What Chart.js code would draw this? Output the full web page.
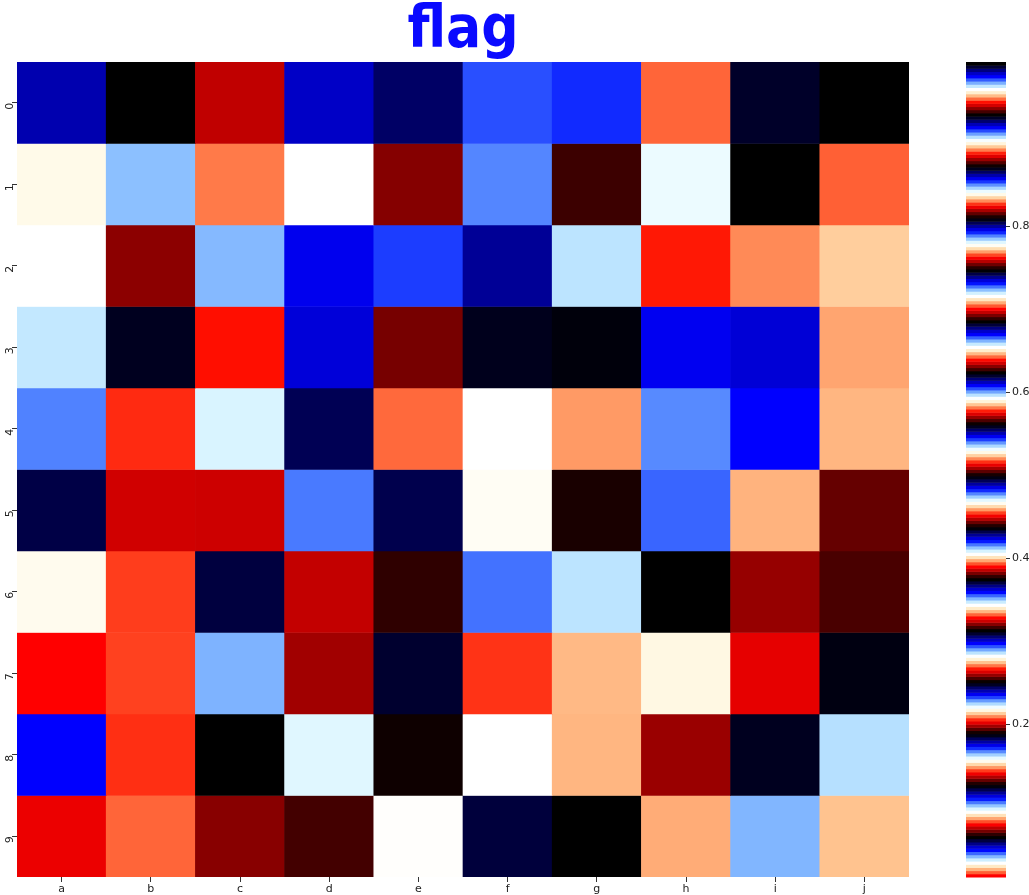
<!DOCTYPE html>
<html>
<head>
<meta charset="utf-8">
<script src="https://cdn.jsdelivr.net/npm/chart.js@4"></script>
<style>
    body { margin: 0; background: #fff; }
    #wrap { position: relative; width: 1029px; height: 895px; }
    #heat { position: absolute; left: 0; top: 0; width: 926px; height: 895px; }
    #cbar { position: absolute; left: 926px; top: 0; width: 103px; height: 895px; }
</style>
</head>
<body>
<div id="wrap">
    <div id="heat"><canvas id="chart-heat"></canvas></div>
    <div id="cbar"><canvas id="chart-cbar"></canvas></div>
</div>
<script>
const columns = ['a', 'b', 'c', 'd', 'e', 'f', 'g', 'h', 'i', 'j'];
const rows = ['0', '1', '2', '3', '4', '5', '6', '7', '8', '9'];

const row0 = [0.551, 0.685, 0.386, 0.985, 0.555, 0.605, 0.482, 0.332, 0.931, 0.313];
const row1 = [0.839, 0.724, 0.582, 0.344, 0.321, 0.478, 0.317, 0.843, 0.686, 0.022];
const row2 = [0.655, 0.942, 0.041, 0.858, 0.543, 0.118, 0.286, 0.267, 0.520, 0.214];
const row3 = [0.969, 0.559, 0.950, 0.425, 0.382, 0.869, 0.125, 0.547, 0.735, 0.087];
const row4 = [0.789, 0.206, 0.098, 0.804, 0.643, 0.345, 0.459, 0.168, 0.670, 0.336];
const row5 = [0.743, 0.635, 0.325, 0.106, 0.121, 0.777, 0.812, 0.355, 0.026, 0.133];
const row6 = [0.156, 0.145, 0.060, 0.697, 0.378, 0.728, 0.287, 0.998, 0.570, 0.256];
const row7 = [0.016, 0.455, 0.662, 0.198, 0.309, 0.827, 0.647, 0.217, 0.202, 0.808];
const row8 = [0.981, 0.517, 0.375, 0.781, 0.873, 0.033, 0.337, 0.880, 0.560, 0.908];
const row9 = [0.823, 0.333, 0.632, 0.939, 0.405, 0.371, 0.624, 0.708, 0.352, 0.275];
const values = [row0, row1, row2, row3, row4, row5, row6, row7, row8, row9];

const cbarTicks = [0.2, 0.4, 0.6, 0.8];

const vmin = Math.min(...values.flat());
const vmax = Math.max(...values.flat());

// matplotlib 'flag' colormap, 256 entry lookup table
function flagColor(t) {
    let i = Math.floor(t * 256);
    if (i > 255) i = 255;
    if (i < 0) i = 0;
    const x = i / 255;
    const r = 0.75 * Math.sin((x * 31.5 + 0.25) * Math.PI) + 0.5;
    const g = Math.sin(x * 31.5 * Math.PI);
    const b = 0.75 * Math.sin((x * 31.5 - 0.25) * Math.PI) + 0.5;
    const c = v => Math.round(Math.min(1, Math.max(0, v)) * 255);
    return `rgb(${c(r)},${c(g)},${c(b)})`;
}

const tickFont = { family: 'DejaVu Sans', size: 11 };

function getHeatmap() {
    const ctx = document.getElementById('chart-heat');
    const datasets = values.map((vals, r) => ({
        label: rows[r],
        data: columns.map(() => [r, r + 1]),
        backgroundColor: vals.map(v => flagColor((v - vmin) / (vmax - vmin))),
        borderWidth: 0,
        grouped: false,
        barPercentage: 1,
        categoryPercentage: 1,
    }));

    new Chart(ctx, {
        type: 'bar',
        data: { labels: columns, datasets },
        options: {
            responsive: true,
            maintainAspectRatio: false,
            animation: false,
            layout: { padding: 0 },
            scales: {
                x: {
                    type: 'category',
                    offset: true,
                    grid: { drawOnChartArea: false, offset: false, tickLength: 5, color: '#333' },
                    border: { display: false },
                    ticks: { font: tickFont, color: '#222', padding: 1, maxRotation: 0 },
                    afterFit: s => { s.height = 18; },
                },
                y: {
                    type: 'linear',
                    min: 0,
                    max: 10,
                    reverse: true,
                    afterBuildTicks: s => { s.ticks = rows.map((_, i) => ({ value: i + 0.5 })); },
                    grid: { drawOnChartArea: false, tickLength: 5, color: '#333' },
                    border: { display: false },
                    ticks: {
                        font: tickFont,
                        color: '#222',
                        padding: 2,
                        minRotation: 90,
                        maxRotation: 90,
                        callback: (v, i) => rows[i],
                    },
                    afterFit: s => { s.width = 17; },
                },
                // empty strip on the right so the title centres over the cells
                yRight: {
                    position: 'right',
                    grid: { display: false },
                    ticks: { display: false },
                    border: { display: false },
                    afterFit: s => { s.width = 17; },
                },
            },
            plugins: {
                legend: { display: false },
                tooltip: { enabled: false },
                title: {
                    display: true,
                    text: 'flag',
                    color: '#0a0aff',
                    font: { family: "'DejaVu Sans Condensed', 'DejaVu Sans'", size: 58, weight: 'bold', lineHeight: 1 },
                    padding: { top: 3, bottom: 1 },
                },
            },
        },
    });
}

const colorbarPlugin = {
    id: 'colorbar',
    beforeDatasetsDraw(chart) {
        const { ctx, chartArea, scales: { y } } = chart;
        for (let i = 0; i < 256; i++) {
            const lo = vmin + (i / 256) * (vmax - vmin);
            const hi = vmin + ((i + 1) / 256) * (vmax - vmin);
            const y0 = y.getPixelForValue(lo);
            const y1 = y.getPixelForValue(hi);
            ctx.fillStyle = flagColor((i + 0.5) / 256);
            ctx.fillRect(chartArea.left, y1, chartArea.right - chartArea.left, y0 - y1 + 0.5);
        }
    }
};

function getColorbar() {
    const ctx = document.getElementById('chart-cbar');
    new Chart(ctx, {
        type: 'scatter',
        data: { datasets: [] },
        options: {
            responsive: true,
            maintainAspectRatio: false,
            animation: false,
            layout: { padding: { left: 40, right: 0, top: 62, bottom: 18 } },
            scales: {
                x: { display: false, min: 0, max: 1 },
                y: {
                    position: 'right',
                    min: vmin,
                    max: vmax,
                    afterBuildTicks: s => { s.ticks = cbarTicks.map(v => ({ value: v })); },
                    grid: { drawOnChartArea: false, tickLength: 4, color: '#333' },
                    border: { display: false },
                    ticks: { font: tickFont, color: '#222', padding: 2, callback: v => v.toFixed(1) },
                    afterFit: s => { s.width = 23; },
                },
            },
            plugins: {
                legend: { display: false },
                tooltip: { enabled: false },
            },
        },
        plugins: [colorbarPlugin],
    });
}

getHeatmap();
getColorbar();
</script>
</body>
</html>
